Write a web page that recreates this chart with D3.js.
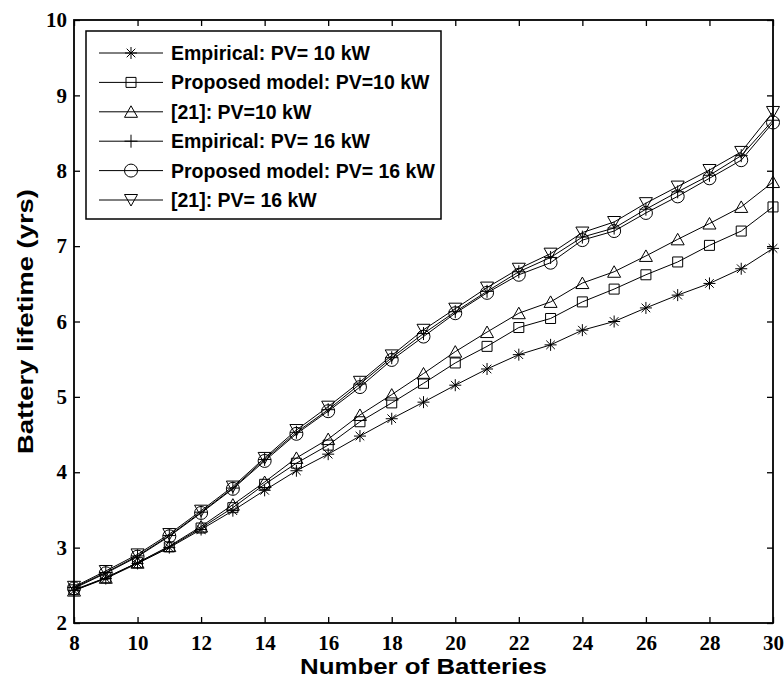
<!DOCTYPE html>
<html>
<head>
<meta charset="utf-8">
<script src="https://cdn.jsdelivr.net/npm/d3@7"></script>
<style>
  body { margin: 0; background: #fff; }
  svg { display: block; }
</style>
</head>
<body>
<div id="chart"></div>
<script>
  let width = 784, height = 680
  let margin = {top: 20, right: 11, bottom: 57, left: 74}

  // battery count on x
  let batteries = d3.range(8, 31)
  let xTicks = [8, 10, 12, 14, 16, 18, 20, 22, 24, 26, 28, 30]
  let yTicks = [2, 3, 4, 5, 6, 7, 8, 9, 10]

  let emp10  = [2.43, 2.59, 2.79, 3.00, 3.24, 3.49, 3.76, 4.02, 4.24, 4.48, 4.71, 4.93, 5.155, 5.37, 5.56, 5.69, 5.885, 6.00, 6.18, 6.35, 6.505, 6.70, 6.97]
  let prop10 = [2.44, 2.60, 2.80, 3.01, 3.26, 3.53, 3.84, 4.12, 4.36, 4.67, 4.92, 5.18, 5.45, 5.67, 5.92, 6.04, 6.26, 6.43, 6.62, 6.79, 7.01, 7.20, 7.52]
  let ref10  = [2.43, 2.60, 2.80, 3.02, 3.28, 3.57, 3.87, 4.19, 4.44, 4.76, 5.03, 5.31, 5.60, 5.86, 6.11, 6.26, 6.51, 6.66, 6.87, 7.09, 7.30, 7.52, 7.85]
  let emp16  = [2.47, 2.67, 2.89, 3.16, 3.47, 3.79, 4.17, 4.53, 4.83, 5.17, 5.52, 5.84, 6.13, 6.40, 6.66, 6.85, 7.12, 7.24, 7.49, 7.72, 7.94, 8.20, 8.67]
  let prop16 = [2.46, 2.66, 2.88, 3.15, 3.46, 3.78, 4.15, 4.51, 4.81, 5.13, 5.49, 5.80, 6.11, 6.38, 6.62, 6.78, 7.08, 7.20, 7.44, 7.66, 7.90, 8.14, 8.64]
  let ref16  = [2.48, 2.69, 2.91, 3.18, 3.49, 3.81, 4.19, 4.56, 4.87, 5.20, 5.55, 5.89, 6.17, 6.45, 6.70, 6.90, 7.18, 7.32, 7.57, 7.79, 8.01, 8.25, 8.78]

  let seriesNames = ["Empirical: PV= 10 kW", "Proposed model: PV=10 kW", "[21]: PV=10 kW",
                     "Empirical: PV= 16 kW", "Proposed model: PV= 16 kW", "[21]: PV= 16 kW"]
  let seriesMarkers = ["star", "square", "triangle", "plus", "circle", "downtriangle"]
  let seriesValues = [emp10, prop10, ref10, emp16, prop16, ref16]

  let series = seriesNames.map(function(n, i){
    return {name: n, marker: seriesMarkers[i],
            points: batteries.map(function(b, j){ return {x: b, y: seriesValues[i][j]} })}
  })

  let x = d3.scaleLinear().domain([8, 30]).range([margin.left, width - margin.right])
  let y = d3.scaleLinear().domain([2, 10]).range([height - margin.bottom, margin.top])

  let svg = d3.select("#chart").append("svg")
    .attr("width", width)
    .attr("height", height)

  // marker shapes, centered on 0,0
  function markerPath(type){
    switch(type){
      case "star":
        return "M-6,0H6M0,-6V6M-4.3,-4.3L4.3,4.3M-4.3,4.3L4.3,-4.3"
      case "plus":
        return "M-6.5,0H6.5M0,-6.5V6.5"
      case "square":
        return "M-5,-5H5V5H-5Z"
      case "circle":
        return "M6.5,0A6.5,6.5 0 1,1 -6.5,0A6.5,6.5 0 1,1 6.5,0Z"
      case "triangle":
        return "M0,-6L6.5,5.5H-6.5Z"
      case "downtriangle":
        return "M0,6L6.5,-5.5H-6.5Z"
    }
  }

  let line = d3.line()
    .x(function(d){ return x(d.x) })
    .y(function(d){ return y(d.y) })

  let plot = svg.append("g").attr("class", "series")

  series.forEach(function(s){
    let g = plot.append("g")
    g.append("path")
      .datum(s.points)
      .attr("d", line)
      .attr("fill", "none")
      .attr("stroke", "#000")
      .attr("stroke-width", 1)
    g.selectAll("path.mk")
      .data(s.points)
      .enter().append("path")
      .attr("class", "mk")
      .attr("transform", function(d){ return "translate(" + x(d.x) + "," + y(d.y) + ")" })
      .attr("d", markerPath(s.marker))
      .attr("fill", "none")
      .attr("stroke", "#000")
      .attr("stroke-width", 1)
  })

  // axes box with inward ticks on every side
  let tickLen = 6
  let bottomAxis = d3.axisBottom(x).tickValues(xTicks).tickSize(-tickLen).tickPadding(12)
  let topAxis = d3.axisTop(x).tickValues(xTicks).tickSize(-tickLen).tickFormat("")
  let leftAxis = d3.axisLeft(y).tickValues(yTicks).tickSize(-tickLen).tickPadding(7)
  let rightAxis = d3.axisRight(y).tickValues(yTicks).tickSize(-tickLen).tickFormat("")

  function styleAxis(g){
    g.select(".domain").remove()
    g.selectAll(".tick line").attr("stroke", "#000").attr("stroke-width", 1.3)
    g.selectAll("text")
      .style("font-family", "'Liberation Serif', 'Times New Roman', serif")
      .style("font-weight", "bold")
      .style("font-size", "21px")
      .attr("fill", "#000")
  }

  svg.append("g").attr("transform", "translate(0," + y(2) + ")").call(bottomAxis).call(styleAxis)
  svg.append("g").attr("transform", "translate(0," + y(10) + ")").call(topAxis).call(styleAxis)
  svg.append("g").attr("transform", "translate(" + x(8) + ",0)").call(leftAxis).call(styleAxis)
  svg.append("g").attr("transform", "translate(" + x(30) + ",0)").call(rightAxis).call(styleAxis)

  svg.append("rect")
    .attr("x", x(8)).attr("y", y(10))
    .attr("width", x(30) - x(8)).attr("height", y(2) - y(10))
    .attr("fill", "none").attr("stroke", "#000").attr("stroke-width", 1.8)

  // axis titles
  svg.append("text")
    .attr("x", (x(8) + x(30)) / 2)
    .attr("y", 674)
    .attr("text-anchor", "middle")
    .attr("textLength", 247)
    .attr("lengthAdjust", "spacingAndGlyphs")
    .style("font-family", "'Liberation Sans', Arial, sans-serif")
    .style("font-weight", "bold")
    .style("font-size", "22px")
    .text("Number of Batteries")

  svg.append("text")
    .attr("transform", "translate(33," + (y(2) + y(10)) / 2 + ") rotate(-90)")
    .attr("text-anchor", "middle")
    .attr("textLength", 265)
    .attr("lengthAdjust", "spacingAndGlyphs")
    .style("font-family", "'Liberation Sans', Arial, sans-serif")
    .style("font-weight", "bold")
    .style("font-size", "22px")
    .text("Battery lifetime (yrs)")

  // legend
  let legend = svg.append("g").attr("class", "legend")
  legend.append("rect")
    .attr("x", 86).attr("y", 31)
    .attr("width", 355).attr("height", 188)
    .attr("fill", "#fff").attr("stroke", "#000").attr("stroke-width", 1.5)

  let rowY = d3.scalePoint().domain(seriesNames).range([53, 200])

  let item = legend.selectAll("g.item")
    .data(series)
    .enter().append("g")
    .attr("class", "item")
    .attr("transform", function(d){ return "translate(0," + rowY(d.name) + ")" })

  item.append("line")
    .attr("x1", 99).attr("x2", 163)
    .attr("stroke", "#000").attr("stroke-width", 1)
  item.append("path")
    .attr("transform", "translate(131,0)")
    .attr("d", function(d){ return markerPath(d.marker) })
    .attr("fill", "none").attr("stroke", "#000").attr("stroke-width", 1)
  item.append("text")
    .attr("x", 171).attr("y", 7)
    .style("font-family", "'Liberation Sans', Arial, sans-serif")
    .style("font-weight", "bold")
    .style("font-size", "19.5px")
    .text(function(d){ return d.name })
</script>
</body>
</html>
